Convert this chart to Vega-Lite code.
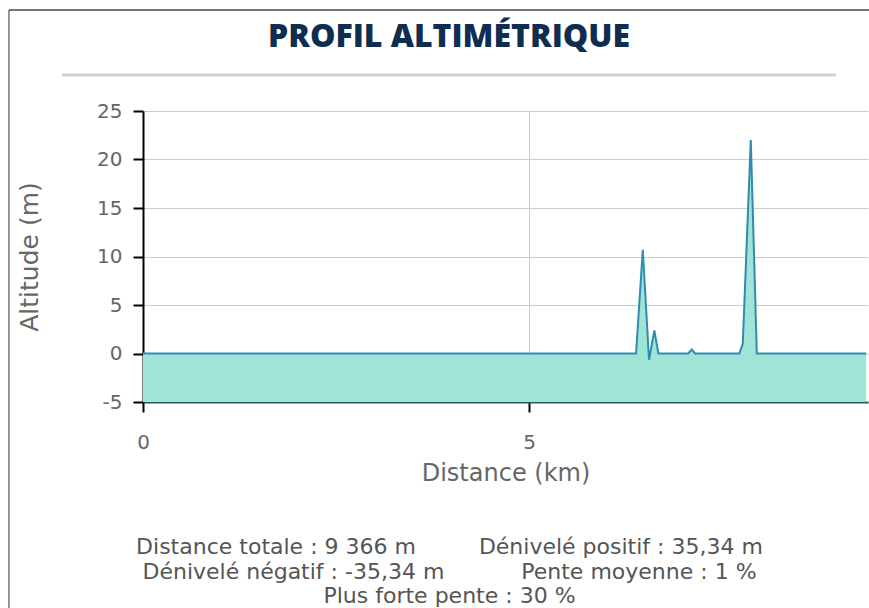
{
  "$schema": "https://vega.github.io/schema/vega-lite/v6.json",
  "background": "white",
  "autosize": {"type": "pad"},
  "padding": {"left": 7, "top": 9, "right": 0, "bottom": 0},
  "config": {"view": {"stroke": null}, "font": "DejaVu Sans"},
  "title": {
    "text": "PROFIL ALTIMÉTRIQUE",
    "font": "Open Sans",
    "fontWeight": 800,
    "fontSize": 32,
    "color": "#0f2d50",
    "anchor": "middle",
    "dx": 10,
    "offset": -45
  },
  "datasets": {
    "profile": [
      {"dist": 0.0, "alt": 0},
      {"dist": 1.0, "alt": 0},
      {"dist": 2.0, "alt": 0},
      {"dist": 3.0, "alt": 0},
      {"dist": 4.0, "alt": 0},
      {"dist": 5.0, "alt": 0},
      {"dist": 6.0, "alt": 0},
      {"dist": 6.386, "alt": 0},
      {"dist": 6.473, "alt": 10.7},
      {"dist": 6.554, "alt": -0.65},
      {"dist": 6.623, "alt": 2.37},
      {"dist": 6.675, "alt": 0},
      {"dist": 7.06, "alt": 0},
      {"dist": 7.108, "alt": 0.4},
      {"dist": 7.15, "alt": 0},
      {"dist": 7.724, "alt": 0},
      {"dist": 7.768, "alt": 1.0},
      {"dist": 7.872, "alt": 22.0},
      {"dist": 7.95, "alt": 0},
      {"dist": 9.366, "alt": 0}
    ]
  },
  "vconcat": [
    {
      "width": 725,
      "height": 291,
      "title": {
        "text": [
          "Distance totale : 9 366 m\u00a0\u00a0\u00a0\u00a0\u00a0\u00a0\u00a0\u00a0\u00a0Dénivelé positif : 35,34 m",
          "Dénivelé négatif : -35,34 m\u00a0\u00a0\u00a0\u00a0\u00a0\u00a0\u00a0\u00a0\u00a0\u00a0\u00a0Pente moyenne : 1 %",
          "Plus forte pente : 30 %"
        ],
        "orient": "bottom",
        "anchor": "middle",
        "dx": -56,
        "font": "DejaVu Sans",
        "fontSize": 22,
        "fontWeight": "normal",
        "color": "#555555",
        "lineHeight": 24.5,
        "offset": -72
      },
      "layer": [
        {
          "data": {"name": "profile"},
          "mark": {"type": "area", "color": "#a0e4d8", "opacity": 1},
          "encoding": {
            "x": {
              "field": "dist",
              "type": "quantitative",
              "scale": {"domain": [0, 9.39], "nice": false, "zero": false},
              "axis": {
                "values": [0, 5],
                "format": "d",
                "labelFlush": false,
                "title": "Distance (km)",
                "grid": true,
                "gridColor": "#cccccc",
                "domainColor": "#1e5e54",
                "domainWidth": 2,
                "tickColor": "#000000",
                "tickSize": 10,
                "tickWidth": 2,
                "labelFont": "DejaVu Sans",
                "labelFontSize": 20,
                "labelColor": "#666666",
                "labelPadding": 20,
                "titleFont": "DejaVu Sans",
                "titleFontSize": 24,
                "titleFontWeight": "normal",
                "titleColor": "#666666",
                "titlePadding": 9
              }
            },
            "y": {
              "field": "alt",
              "type": "quantitative",
              "scale": {"domain": [-5, 25], "nice": false},
              "axis": {
                "values": [-5, 0, 5, 10, 15, 20, 25],
                "labelExpr": "replace(datum.label, '\u2212', '-')",
                "title": "Altitude (m)",
                "grid": true,
                "gridColor": "#cccccc",
                "domainColor": "#000000",
                "domainWidth": 2,
                "tickColor": "#000000",
                "tickSize": 10,
                "tickWidth": 2,
                "labelFont": "DejaVu Sans",
                "labelFontSize": 20,
                "labelColor": "#666666",
                "labelPadding": 11,
                "titleFont": "DejaVu Sans",
                "titleFontSize": 25,
                "titleFontWeight": "normal",
                "titleColor": "#666666",
                "titlePadding": 54
              }
            },
            "y2": {"datum": -5}
          }
        },
        {
          "data": {"name": "profile"},
          "mark": {"type": "line", "color": "#2e8cb0", "strokeWidth": 2},
          "encoding": {
            "x": {"field": "dist", "type": "quantitative"},
            "y": {"field": "alt", "type": "quantitative"}
          }
        },
        {
          "data": {"values": [{"part": "separator"}]},
          "mark": {"type": "rule", "color": "#d0d0d0", "strokeWidth": 3},
          "encoding": {
            "x": {"datum": -1.049},
            "x2": {"datum": 8.977},
            "y": {"datum": 28.71}
          }
        },
        {
          "data": {"values": [{"part": "frame-top"}]},
          "mark": {"type": "rule", "color": "#777777", "strokeWidth": 2},
          "encoding": {
            "x": {"datum": -1.736},
            "x2": {"datum": 9.404},
            "y": {"datum": 35.4}
          }
        },
        {
          "data": {"values": [{"part": "frame-left"}]},
          "mark": {"type": "rule", "color": "#333333", "strokeWidth": 1},
          "encoding": {
            "x": {"datum": -1.736},
            "y": {"datum": 35.4},
            "y2": {"datum": -26.3}
          }
        }
      ]
    }
  ]
}
